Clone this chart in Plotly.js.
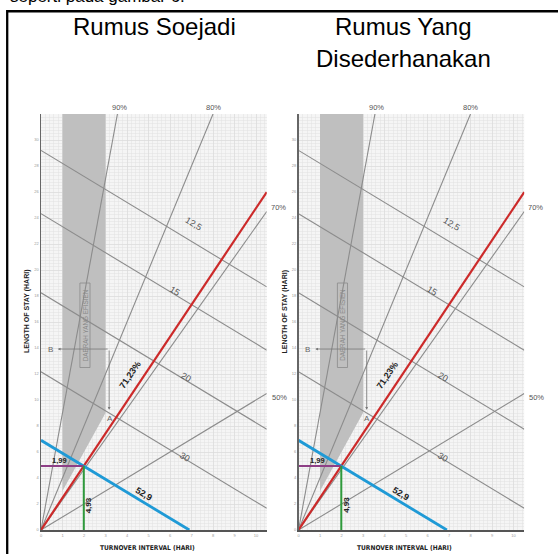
<!DOCTYPE html>
<html><head><meta charset="utf-8">
<script src="https://cdn.plot.ly/plotly-3.0.1.min.js"></script>
<style>html,body{margin:0;padding:0;background:#fff;}#chart{width:558px;height:554px;}</style>
</head><body><div id="chart"></div>
<script>
// ---------------- data ----------------
const headerText = 'seperti pada gambar 6.';
const panelTitleLines = [['Rumus Soejadi'], ['Rumus Yang', 'Disederhanakan']];
const borLevels = [90, 80, 70, 50];               // BOR reference lines (%)
const borLabels = ['90%', '80%', '70%', '50%'];
const btoLevels = [12.5, 15, 20, 30];             // BTO reference lines
const btoLabels = ['12,5', '15', '20', '30'];
const periodDays = 365;
const efficientTOI = [1, 3];                      // efficient region TOI range
const efficientBORmin = 75;                       // efficient region min BOR (%)
const resultBOR = [71.23, 71.23];
const resultBOR_label = ['71,23%', '71,23%'];
const resultBTO = [52.9, 52.9];
const resultBTO_label = ['52,9', '52,9'];
const resultTOI = [1.99, 1.99];
const resultTOI_label = ['1,99', '1,99'];
const resultLOS = [4.93, 4.93];
const resultLOS_label = ['4,93', '4,93'];
const xTicks = [0, 1, 2, 3, 4, 5, 6, 7, 8, 9, 10];
const yTicks = [0, 2, 4, 6, 8, 10, 12, 14, 16, 18, 20, 22, 24, 26, 28, 30];
const xTitle = 'TURNOVER INTERVAL (HARI)';
const yTitle = 'LENGTH OF STAY (HARI)';
const regionText = 'DAERAH YANG EFISIEN';

// ---------------- layout constants ----------------
const W = 558, H = 554;
const XMAX = 10.5, YMAX = 32;
const panelLeftPx = [41, 298.5];
const pxPerX = 21.5, pxPerY = 13;
const originYPx = 530;
const FONT = 'Liberation Sans, Arial, sans-serif';
const NARROW = 'Liberation Sans Narrow, DejaVu Sans Condensed, Arial Narrow, sans-serif';

const ratio = p => p / (100 - p);

const traces = [];
const annotations = [];
const shapes = [];
const layout = {
  width: W, height: H, margin: {l: 0, r: 0, t: 0, b: 0},
  paper_bgcolor: '#ffffff', plot_bgcolor: '#f5f5f5', showlegend: false,
  font: {family: FONT}
};

const yDomain = [(H - originYPx) / H, (H - originYPx + YMAX * pxPerY) / H];

for (let k = 0; k < 2; k++) {
  const xa = k === 0 ? 'x' : 'x2', ya = k === 0 ? 'y' : 'y2';
  const xKey = k === 0 ? 'xaxis' : 'xaxis2', yKey = k === 0 ? 'yaxis' : 'yaxis2';
  const x0 = panelLeftPx[k] / W, x1 = (panelLeftPx[k] + XMAX * pxPerX) / W;
  layout[xKey] = {
    domain: [x0, x1], range: [0, XMAX], anchor: ya,
    tickmode: 'array', tickvals: xTicks, ticktext: xTicks.map(String),
    showgrid: true, gridcolor: '#dadada', gridwidth: 0.6,
    minor: {tickmode: 'linear', tick0: 0, dtick: 0.2, showgrid: true, gridcolor: '#e2e2e2', gridwidth: 0.5},
    showline: true, linecolor: '#555', linewidth: 2, zeroline: false, ticks: '',
    tickfont: {size: 4, color: '#999'}, fixedrange: true
  };
  layout[yKey] = {
    domain: yDomain, range: [0, YMAX], anchor: xa,
    tickmode: 'array', tickvals: yTicks, ticktext: yTicks.map(String),
    showgrid: true, gridcolor: '#dadada', gridwidth: 0.6,
    minor: {tickmode: 'linear', tick0: 0, dtick: 0.25, showgrid: true, gridcolor: '#e2e2e2', gridwidth: 0.5},
    showline: true, linecolor: '#666', linewidth: 1.5, zeroline: false, ticks: '',
    tickfont: {size: 4, color: '#999'}, fixedrange: true
  };

  // efficient region
  const r75 = ratio(efficientBORmin);
  traces.push({
    type: 'scatter', mode: 'lines', xaxis: xa, yaxis: ya, hoverinfo: 'skip',
    x: [efficientTOI[0], efficientTOI[0], efficientTOI[1], efficientTOI[1], efficientTOI[0]],
    y: [r75 * efficientTOI[0], YMAX, YMAX, r75 * efficientTOI[1], r75 * efficientTOI[0]],
    fill: 'toself', fillcolor: '#bfbfbf', line: {width: 0}
  });

  // BOR lines
  borLevels.forEach((p) => {
    const r = ratio(p);
    const xe = Math.min(XMAX, YMAX / r);
    traces.push({type: 'scatter', mode: 'lines', xaxis: xa, yaxis: ya, hoverinfo: 'skip',
      x: [0, xe], y: [0, r * xe], line: {color: '#8c8c8c', width: 1.1}});
  });
  // BTO lines
  btoLevels.forEach((b) => {
    const s = periodDays / b;
    const xe = Math.min(XMAX, s);
    traces.push({type: 'scatter', mode: 'lines', xaxis: xa, yaxis: ya, hoverinfo: 'skip',
      x: [0, xe], y: [s, s - xe], line: {color: '#8c8c8c', width: 1.1}});
  });
  // result BOR (red)
  {
    const r = ratio(resultBOR[k]);
    const xe = Math.min(XMAX, YMAX / r);
    traces.push({type: 'scatter', mode: 'lines', xaxis: xa, yaxis: ya, hoverinfo: 'skip',
      x: [0, xe], y: [0, r * xe], line: {color: '#cc2a2a', width: 2.2}});
  }
  // result BTO (blue)
  {
    const s = periodDays / resultBTO[k];
    traces.push({type: 'scatter', mode: 'lines', xaxis: xa, yaxis: ya, hoverinfo: 'skip',
      x: [0, s], y: [s, 0], line: {color: '#1f9ad6', width: 2.8}});
  }
  // TOI / LOS markers
  traces.push({type: 'scatter', mode: 'lines', xaxis: xa, yaxis: ya, hoverinfo: 'skip',
    x: [0, resultTOI[k]], y: [resultLOS[k], resultLOS[k]], line: {color: '#8e3f86', width: 2}});
  traces.push({type: 'scatter', mode: 'lines', xaxis: xa, yaxis: ya, hoverinfo: 'skip',
    x: [resultTOI[k], resultTOI[k]], y: [0, resultLOS[k]], line: {color: '#2f9a3c', width: 2}});

  // labels
  const lab = (text, x, y, opts) => annotations.push(Object.assign({
    xref: xa, yref: ya, x, y, text, showarrow: false, xanchor: 'center', yanchor: 'middle',
    font: {family: FONT, size: 7.5, color: '#555'}
  }, opts || {}));
  lab(borLabels[0], YMAX / ratio(borLevels[0]), YMAX, {yshift: 7, xshift: 2});
  lab(borLabels[1], YMAX / ratio(borLevels[1]), YMAX, {yshift: 7});
  lab(borLabels[2], XMAX, ratio(borLevels[2]) * XMAX, {xanchor: 'left', xshift: 2, yshift: 4});
  lab(borLabels[3], XMAX, ratio(borLevels[3]) * XMAX, {xanchor: 'left', xshift: 3, yshift: -4});
  const btoPos = [[7.12, 23.56], [6.23, 18.4], [6.73, 11.75], [6.7, 5.64]];
  btoLabels.forEach((t, i) => lab(t, btoPos[i][0], btoPos[i][1],
    {textangle: 31, font: {family: FONT, size: 9, color: '#555'}}));
  lab(resultBOR_label[k], 4.14, 11.92, {textangle: -56, font: {family: FONT, size: 9, color: '#222', weight: 'bold'}});
  lab(resultBTO_label[k], 4.79, 2.77, {textangle: 31, font: {family: FONT, size: 9, color: '#222', weight: 'bold'}});
  lab(resultTOI_label[k], 0.88, 5.38, {font: {family: FONT, size: 7.5, color: '#222', weight: 'bold'}});
  lab(resultLOS_label[k], 2.2, 1.92, {textangle: -90, font: {family: FONT, size: 8, color: '#222', weight: 'bold'}});
  lab('B', 0.42, 13.92, {font: {family: FONT, size: 8, color: '#666'}});
  lab('A', 3.2, 8.54, {font: {family: FONT, size: 8, color: '#666'}});
  lab(regionText, 2.05, 15.75, {textangle: -90, font: {family: FONT, size: 6.3, color: '#888'}});

  // arrows B <- ... -> A
  annotations.push({xref: xa, yref: ya, axref: xa, ayref: ya, x: 0.78, y: 13.92, ax: 3.17, ay: 13.92,
    text: '', showarrow: true, arrowhead: 2, arrowsize: 0.7, arrowwidth: 0.8, arrowcolor: '#777'});
  annotations.push({xref: xa, yref: ya, axref: xa, ayref: ya, x: 3.17, y: 9.25, ax: 3.17, ay: 13.92,
    text: '', showarrow: true, arrowhead: 2, arrowsize: 0.7, arrowwidth: 0.8, arrowcolor: '#777'});
  shapes.push({type: 'rect', xref: xa, yref: ya, x0: 1.81, x1: 2.28, y0: 12.5, y1: 19.0,
    line: {color: '#8a8a8a', width: 0.8}, fillcolor: 'rgba(0,0,0,0)'});

  // axis titles
  const cx = (panelLeftPx[k] + 106) / W;
  annotations.push({xref: 'paper', yref: 'paper', x: cx, y: (H - 548) / H, xanchor: 'center', yanchor: 'middle',
    text: xTitle, showarrow: false, font: {family: NARROW, size: 6.6, color: '#222', weight: 'bold'}});
  annotations.push({xref: 'paper', yref: 'paper', x: (panelLeftPx[k] - 14) / W, y: (H - 312) / H,
    xanchor: 'center', yanchor: 'middle', text: yTitle,
    textangle: -90, showarrow: false, font: {family: FONT, size: 7, color: '#222', weight: 'bold'}});
}

// panel titles
const titleCenters = [154, 403];
panelTitleLines.forEach((lines, k) => {
  lines.forEach((t, j) => annotations.push({
    xref: 'paper', yref: 'paper', x: titleCenters[k] / W, y: (H - (26 + 32 * j)) / H,
    xanchor: 'center', yanchor: 'middle',
    text: t, showarrow: false, font: {family: FONT, size: 24, color: '#000'}
  }));
});
// cut-off header text
annotations.push({xref: 'paper', yref: 'paper', x: 8 / W, xanchor: 'left', y: (H + 3) / H, yanchor: 'middle',
  text: headerText, showarrow: false, font: {family: FONT, size: 17, color: '#000'}});

// frame lines
shapes.push({type: 'line', xref: 'paper', yref: 'paper', x0: 7.2 / W, x1: 1.01, y0: (H - 11.3) / H, y1: (H - 11.3) / H,
  line: {color: '#000', width: 2.5}});
shapes.push({type: 'line', xref: 'paper', yref: 'paper', x0: 7.2 / W, x1: 7.2 / W, y0: -0.01, y1: (H - 10) / H,
  line: {color: '#000', width: 2.3}});

layout.annotations = annotations;
layout.shapes = shapes;
Plotly.newPlot('chart', traces, layout, {displayModeBar: false, staticPlot: true});
</script></body></html>
